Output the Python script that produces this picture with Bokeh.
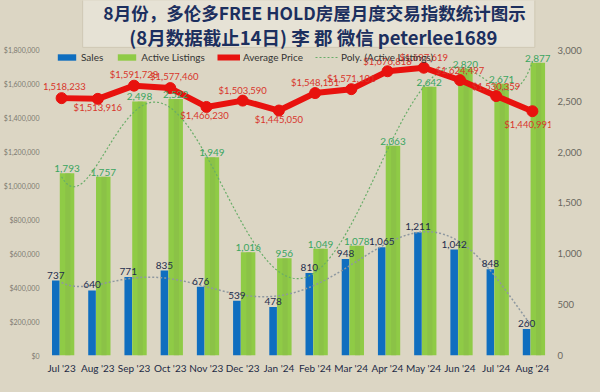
import numpy as np
from bokeh.plotting import figure
from bokeh.models import (Range1d, LinearAxis, FixedTicker, NumeralTickFormatter,
                          ColumnDataSource, Legend, LegendItem, Label)
from bokeh.transform import dodge
from bokeh.core.properties import value
from bokeh.embed import file_html
from bokeh.resources import INLINE

# ---------------- data ----------------
months = ["Jul '23", "Aug '23", "Sep '23", "Oct '23", "Nov '23", "Dec '23", "Jan '24",
          "Feb '24", "Mar '24", "Apr '24", "May '24", "Jun '24", "Jul '24", "Aug '24"]
sales = [737, 640, 771, 835, 676, 539, 478, 810, 948, 1065, 1211, 1042, 848, 260]
listings = [1793, 1757, 2498, 2522, 1949, 1016, 956, 1049, 1078, 2063, 2642, 2820, 2671, 2877]
avg_price = [1518233, 1513916, 1591728, 1577460, 1466230, 1503590, 1445050,
             1548151, 1571101, 1676818, 1697619, 1624497, 1530359, 1440991]

title1 = "8月份，多伦多FREE HOLD房屋月度交易指数统计图示"
title2 = "(8月数据截止14日) 李 郡  微信 peterlee1689"
legend_names = ["Sales", "Active Listings", "Average Price", "Poly. (Active Listings)"]

price_ticks = [0, 200000, 400000, 600000, 800000, 1000000, 1200000, 1400000, 1600000, 1800000]
count_ticks = [0, 500, 1000, 1500, 2000, 2500, 3000]

# ---------------- layout / style ----------------
W, H = 584, 376
FL, FR = 38, 556          # frame left/right (px)
FB = 356                  # frame bottom (px from top); frame top is 0
TOP = 50                  # px position of 3000 / $1.8M
BG = "#dcd6c4"
FONT = "Lato"
NCAT = len(months)

scale = FB / (FB - TOP)
cnt_max = 3000 * scale
price_max = 1800000 * scale


def px_x(px):
    return 0.5 + (px - FL) / (FR - FL) * NCAT


def px_cnt(py):
    return (FB - py) / FB * cnt_max


# price label offsets (px, positive = downwards)
price_dy = [-12, 9, -11, -12, 9, -10, 9, -11, -11, -10, -10, -10, -10, 13]
price_dx = [0, 0, 0, 4, -2, 0, 0, 0, 0, 0, 0, 0, 0, -4]

x = list(range(1, NCAT + 1))
src = ColumnDataSource(dict(
    x=x, sales=sales, listings=listings, price=avg_price,
    sales_txt=[f"{v:,}" for v in sales],
    list_txt=[f"{v:,}" for v in listings],
))

p = figure(width=W, height=H, x_range=Range1d(0.5, NCAT + 0.5),
           y_range=Range1d(0, price_max), output_backend="svg", toolbar_location=None,
           min_border_left=FL, min_border_right=W - FR, min_border_top=0,
           min_border_bottom=H - FB)
p.extra_y_ranges = {"cnt": Range1d(0, cnt_max)}
p.background_fill_color = BG
p.border_fill_color = BG
p.outline_line_color = None
p.xgrid.grid_line_color = None
p.ygrid.grid_line_color = None

# title box (panel behind the two title lines)
p.quad(left=[px_x(78)], right=[px_x(540)], top=[px_cnt(-1)], bottom=[px_cnt(47)],
       y_range_name="cnt", fill_color="#e6e2d5", line_color="#cfc8b4", line_width=1,
       level="underlay")

# axes
xa = p.xaxis[0]
xa.ticker = FixedTicker(ticks=x)
xa.major_label_overrides = {i: m for i, m in zip(x, months)}
ya = p.yaxis[0]
ya.ticker = FixedTicker(ticks=price_ticks)
ya.formatter = NumeralTickFormatter(format="$0,0")
ra = LinearAxis(y_range_name="cnt", ticker=FixedTicker(ticks=count_ticks),
                formatter=NumeralTickFormatter(format="0,0"))
p.add_layout(ra, "right")
for ax in (xa, ya, ra):
    ax.axis_line_color = None
    ax.major_tick_line_color = None
    ax.minor_tick_line_color = None
    ax.major_tick_in = 0
    ax.major_tick_out = 0
    ax.major_label_text_font = FONT
xa.major_label_text_font_size = "10px"
xa.major_label_text_color = "#1c2a44"
xa.major_label_standoff = 6
ya.major_label_text_font_size = "7px"
ya.major_label_text_color = "#7d7a72"
ya.major_label_standoff = 4
ra.major_label_text_font_size = "9.5px"
ra.major_label_text_color = "#6a675f"
ra.major_label_standoff = 7

# bars
r_sales = p.vbar(x=dodge("x", -0.16), top="sales", width=0.21, source=src,
                 y_range_name="cnt", fill_color="#0f6ebf", line_color=None)
r_list = p.vbar(x=dodge("x", 0.15), top="listings", width=0.40, source=src,
                y_range_name="cnt", fill_color="#8fcb46", line_color=None)
p.vbar(x=dodge("x", 0.17), top="listings", width=0.14, source=src,
       y_range_name="cnt", fill_color="#88bd48", fill_alpha=0.6, line_color=None)

# polynomial trend lines (order 6, as in the spreadsheet trendline)
xs = np.linspace(1, NCAT, 300)
tl = np.polyval(np.polyfit(x, listings, 6), xs)
tl = np.where(tl > 3060, np.nan, tl)
ts = np.polyval(np.polyfit(x, sales, 6), xs)
r_poly = p.line(xs, tl, y_range_name="cnt", line_color="#68ad68", line_width=1.2,
                line_dash="2 2")
p.line(xs, ts, y_range_name="cnt", line_color="#8e98a0", line_width=1.5, line_dash="2 2")

# price line
r_pl = p.line("x", "price", source=src, line_color="#e8120e", line_width=6)
r_pm = p.scatter("x", "price", source=src, size=11, fill_color="#e8120e", line_color="#e8120e")

# value labels
p.text(x=dodge("x", -0.16), y="sales", text="sales_txt", source=src, y_range_name="cnt",
       text_align="center", text_baseline="bottom", y_offset=-2,
       text_font=value(FONT), text_font_size="10px", text_color="#1f2d4d")
p.text(x=dodge("x", 0.15), y="listings", text="list_txt", source=src, y_range_name="cnt",
       text_align="center", text_baseline="bottom", y_offset=-1,
       text_font=value(FONT), text_font_size="10px", text_color="#3aa560")
for xi, pv, dx, dy in zip(x, avg_price, price_dx, price_dy):
    p.add_layout(Label(x=xi, y=pv, x_offset=dx, y_offset=-dy, text=f"${pv:,}",
                       text_align="center", text_baseline="middle",
                       text_font=FONT, text_font_size="9.5px", text_color="#d8352b"))

# legend
legend = Legend(items=[
    LegendItem(label=legend_names[0], renderers=[r_sales]),
    LegendItem(label=legend_names[1], renderers=[r_list]),
    LegendItem(label=legend_names[2], renderers=[r_pl, r_pm]),
    LegendItem(label=legend_names[3], renderers=[r_poly]),
], location=(12, FB - 64), orientation="horizontal",
    background_fill_alpha=0, border_line_color=None, padding=0, margin=0,
    spacing=12, label_standoff=3, glyph_width=23, glyph_height=8, label_height=12,
    label_text_font=FONT, label_text_font_size="10px", label_text_color="#333333")
p.add_layout(legend)

# title
p.add_layout(Label(x=271, y=FB - 13, x_units="screen", y_units="screen", text=title1,
                   text_align="center", text_baseline="middle",
                   text_font="Noto Sans CJK SC", text_font_style="bold",
                   text_font_size="17.5px", text_color="#1c2f5e"))
p.add_layout(Label(x=272, y=FB - 37, x_units="screen", y_units="screen", text=title2,
                   text_align="center", text_baseline="middle",
                   text_font="Noto Sans CJK SC", text_font_style="bold",
                   text_font_size="18.5px", text_color="#1c2f5e"))

html = file_html(p, INLINE)
html = html.replace("</head>", "<style>html,body{background-color:%s;}</style></head>" % BG, 1)
open("out.html", "w").write(html)
